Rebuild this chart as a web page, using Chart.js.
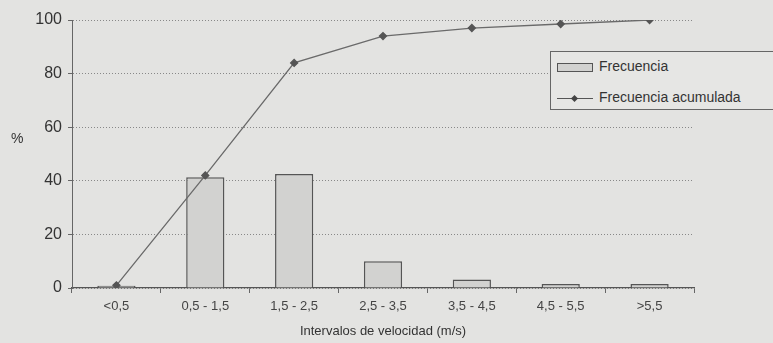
<!DOCTYPE html>
<html>
<head>
<meta charset="utf-8">
<script src="https://cdn.jsdelivr.net/npm/chart.js@4/dist/chart.umd.min.js"></script>
<style>
  html, body { margin: 0; padding: 0; background: #e3e3e1; }
  #wrap { position: relative; width: 773px; height: 343px; }
  #pct { position: absolute; left: 11px; top: 130px; font: 14px "Liberation Sans", Arial, sans-serif; color: #333; }
  #legend {
    position: absolute; left: 550px; top: 51px; width: 226px; height: 59px;
    border: 1px solid #666; background: #e6e6e4; box-sizing: border-box;
    font: 14px "Liberation Sans", Arial, sans-serif; color: #333;
  }
  .row { position: absolute; left: 6px; height: 18px; line-height: 18px; white-space: nowrap; }
  .swatch { display: inline-block; width: 36px; height: 9px; border: 1px solid #555; background: #d2d2d0; vertical-align: middle; margin-right: 6px; box-sizing: border-box; }
  .lineSw { display: inline-block; position: relative; width: 36px; height: 9px; vertical-align: middle; margin-right: 6px; }
  .lineSw:before { content: ""; position: absolute; left: 0; right: 0; top: 4px; border-top: 1px solid #555; }
  .lineSw:after { content: ""; position: absolute; left: 15px; top: 2px; width: 5px; height: 5px; background: #444; transform: rotate(45deg); }
</style>
</head>
<body>
<div id="wrap">
  <canvas id="chart" width="773" height="343"></canvas>
  <div id="pct">%</div>
  <div id="legend">
    <div class="row" style="top:5px"><span class="swatch"></span>Frecuencia</div>
    <div class="row" style="top:36px"><span class="lineSw"></span>Frecuencia acumulada</div>
  </div>
</div>
<script>
const categories = ["<0,5", "0,5 - 1,5", "1,5 - 2,5", "2,5 - 3,5", "3,5 - 4,5", "4,5 - 5,5", ">5,5"];
const frecuencia = [0.8, 41.3, 42.5, 10, 3.2, 1.5, 1.5];
const acumulada = [1, 42, 84, 94, 97, 98.5, 100];
const yTicks = [0, 20, 40, 60, 80, 100];

const ctx = document.getElementById("chart").getContext("2d");

const config = {
  type: "bar",
  data: {
    labels: categories,
    datasets: [
      {
        type: "line",
        label: "Frecuencia acumulada",
        data: acumulada,
        borderColor: "#6a6a6a",
        borderWidth: 1.3,
        pointStyle: "rectRot",
        pointRadius: 3.5,
        pointBackgroundColor: "#555",
        pointBorderColor: "#555",
        tension: 0,
        fill: false,
        order: 0,
      },
      {
        label: "Frecuencia",
        data: frecuencia,
        backgroundColor: "#d2d2d0",
        borderColor: "#555",
        borderWidth: 1.5,
        barPercentage: 0.43,
        categoryPercentage: 1,
        order: 1,
      },
    ],
  },
  options: {
    responsive: false,
    animation: false,
    layout: { padding: { left: 0, right: 79, top: 20, bottom: 0 } },
    plugins: { legend: { display: false }, tooltip: { enabled: false } },
    scales: {
      x: {
        afterFit: (scale) => { scale.height = 55; },
        grid: {
          drawOnChartArea: false,
          drawTicks: true,
          tickLength: 5,
          color: "#666",
          offset: true,
        },
        border: { color: "#555", width: 1.3 },
        ticks: {
          color: "#444",
          padding: 6,
          font: { family: "'Liberation Sans', Arial", size: 13 },
          maxRotation: 0,
        },
        title: {
          display: true,
          text: "Intervalos de velocidad (m/s)",
          color: "#333",
          padding: { top: 4 },
          font: { family: "'Liberation Sans', Arial", size: 13 },
        },
      },
      y: {
        min: 0,
        max: 100,
        afterFit: (scale) => { scale.width = 72; },
        afterBuildTicks: (scale) => { scale.ticks = yTicks.map((v) => ({ value: v })); },
        grid: {
          color: "#888",
          lineWidth: 1,
          tickLength: 4,
          tickColor: "#666",
        },
        border: { color: "#666", width: 1, dash: [1, 2] }, // pointillés des lignes de grille
        ticks: {
          color: "#333",
          padding: 6,
          font: { family: "'Liberation Sans', Arial", size: 16 },
        },
      },
    },
  },
};

const myChart = new Chart(ctx, config);
</script>
</body>
</html>
